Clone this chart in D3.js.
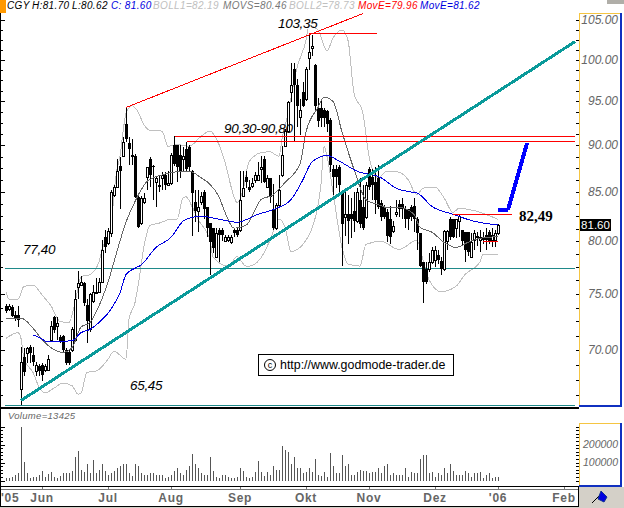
<!DOCTYPE html>
<html><head><meta charset="utf-8">
<script src="https://cdn.jsdelivr.net/npm/d3@7/dist/d3.min.js"></script>
<style>html,body{margin:0;padding:0;background:#fff;overflow:hidden}svg{display:block;font-family:"Liberation Sans",Arial,sans-serif}</style>
</head><body><svg id="c" width="624" height="508"></svg>
<script>
const open=[73.9,73.6,73.8,73.1,73.1,66.7,69.4,69.7,70.3,69.6,
68.2,68.6,68.7,68.3,68.3,70.9,72.9,72.1,71.1,71.2,
70.0,69.8,70.0,70.9,75.6,75.8,76.0,74.0,71.8,74.3,
75.1,75.2,76.1,80.4,79.8,80.8,84.7,85.5,87.8,88.8,
92.4,90.3,88.9,88.8,84.5,81.8,84,86.6,88.5,87.8,
86.1,85.7,86.5,86.8,85.7,85.9,90.1,90.1,89,88.5,
89.6,89.8,87.2,84,83,84,85,83.4,81.8,81.3,
78.5,81.1,81.1,80,80.1,79.9,81.1,81.1,81.1,84.6,
86.6,85.5,85.6,86.3,86.3,87.4,88.5,85.5,86.5,83.2,
81.3,83.7,86.8,89.9,91.6,96.1,98.9,96.9,93.2,96.1,
95.3,100.2,101.4,99.4,94.2,94.2,94,93.9,92.9,87.4,
87.4,87.6,85,82.4,82.7,82.7,83,82,84.2,83.4,
82.4,87.4,86.6,86.1,86.5,83.9,83.4,82.9,82.2,81,
82.7,83.8,83.8,83.2,83.2,83.4,83.5,82.2,80.8,78,
77.3,77.3,78,78.2,78.7,78.1,77.3,80,82.2,82.2,
81.3,82,81.1,80.9,80.9,78.5,80.1,80.4,80.1,80.4,
80.6,80.9,80.1,80.1,80.8];
const high=[74.1,74.1,74.0,73.4,73.9,70.3,70.2,70.3,70.4,70.3,
69.0,68.8,68.9,68.8,69.6,72.5,73,72.9,71.3,71.3,
70.2,70,72,75.4,77.1,76.7,76.1,74.5,75.1,75.8,
76.5,76.5,80.1,81.1,81.3,85.2,85.7,88.5,88.7,90.9,
94.4,90.9,90.7,89.1,84.6,84.6,84.9,87.7,88.7,87.9,
86.6,86.8,87.1,87.1,87.2,89.2,91,90.1,90.1,89.8,
90.4,90.1,87.3,85.2,85.2,85,85.2,83.4,81.8,81.3,
81.3,81.3,81.3,80.6,80.6,80.6,81.3,81.3,87.2,87.2,
87.2,86.3,86.5,87.1,88.2,88.8,88.8,86.8,86.5,85.8,
83.9,86.8,89.9,91.8,95,99.6,99.6,97.7,95.3,97.3,
99.1,103.35,103.1,99.5,95.4,95.1,94.2,94,93.1,87.9,
87.9,87.9,85.2,85,84.7,84.4,85,85.4,86.5,85.7,
86.1,87.6,87.4,87.6,87.9,84.2,83.7,83.2,83.5,82,
84.2,84.2,84.4,83.5,83.2,83.7,84.4,82.4,80.8,78,
78,78.9,79.4,79.5,79.2,78.5,81.1,81.1,82.4,82.2,
82.2,82.7,81.1,80.9,80.9,80.8,81.1,80.9,81.1,80.9,
81.3,81.1,81.3,81.1,81.7];
const low=[73.3,73.4,72.9,72.5,72.0,65.45,67.8,68.9,68.9,68.6,
67.8,67.8,67.4,68.1,68.2,70.8,71.5,70.9,70.6,69.8,
68.7,68.7,69.8,70.7,74.5,75.7,73.9,70.6,71.6,74.2,
75.1,75.1,76.0,78.9,79.6,80.4,84.5,85.4,83.2,88.7,
90.4,87.9,87.9,84.4,81.3,81.6,83.8,85.2,85.5,84.2,
83.4,85,85.2,85.2,85.6,85.7,87.8,86.1,86.5,87.1,
87.2,87.2,80.5,81.9,80.9,83.7,82.2,80.4,76.8,78.9,
78.4,78,80,79.9,79.9,79.7,80.4,80.4,80.9,84.5,
85.4,85,85.4,85.9,86.3,85.9,85.9,85.4,83.9,81.1,
81.1,83.5,86.6,89.8,91.5,94.9,90.5,92.1,91.2,94.3,
95.1,98.7,100.4,94,92.1,92.1,92.1,91.5,87.1,84.7,
85.4,84.7,77.6,80.5,79.7,80.3,80.9,81.8,81.3,81.1,
82.2,85.2,84.2,82.7,83.2,82,82.2,79.9,79.7,80.8,
82.4,82.4,82.2,81.3,81.1,82,80.9,79.2,77.5,74.2,
75.9,77,77.8,77.5,77.8,76.8,77.1,79.2,80.1,80.3,
80.3,80.4,79.5,78,78.6,78.4,79.2,79.5,79,79.7,
79.2,79.7,79.4,79.4,80.62];
const close=[73.4,73.9,73.0,72.8,72.6,69.0,68.1,70.2,69.7,69.0,
68.7,68.2,67.9,68.6,69.2,72.1,71.7,72.4,70.7,70.0,
68.9,68.9,71.8,74.5,76.0,76.1,74.2,72.5,75.0,75.2,
75.2,76.1,79.2,79.4,81,85,85.5,87.2,87.2,90.4,
90.7,89.6,88.7,84.5,81.4,84.4,84.4,87.6,86.8,87.6,
86.5,85.5,86.8,85.7,85.9,89,88,87.6,87.2,88.8,
87.4,87.6,84.9,83,83.4,84.6,83.2,81.3,79.9,79.3,
80.8,80.6,80.6,80.4,80.4,80.4,80.8,80.6,84.2,85.4,
86.1,85.2,85.9,86.8,86.8,87.6,86.1,86.5,84.5,81.3,
83.7,85.2,89,91.6,94.9,96.9,96.9,94.5,94,94.5,
98.9,100.9,101.7,94.5,92.7,93.1,93.1,92.4,87.9,86.6,
86.6,85.7,81.7,82.7,82,82.2,82,85,81.7,81.3,
85.7,85.5,85.7,84.2,83.4,82.4,82.4,80.5,80.4,81.5,
82.9,83.2,83.2,82.2,82.2,82.4,82.2,80.8,77.6,76.1,
76.1,78,79.2,79.2,78.2,77.3,81,81,80.4,80.4,
82.2,82.5,80,79.2,79,79.9,80.8,80.5,80.4,80.1,
80.1,80,80.6,80.8,81.6];
const volumeK=[15,15,18,28,42,296,105,39,15,22,22,28,55,18,37,50,22,15,26,39,44,44,55,133,166,61,50,94,39,116,39,61,94,55,33,42,55,72,78,89,94,44,26,94,83,39,33,33,39,39,28,30,33,15,18,33,55,72,39,28,61,83,150,89,72,39,28,33,128,55,22,15,31,28,17,15,15,17,67,55,22,15,22,50,111,50,24,50,33,78,61,61,194,172,159,94,133,72,67,44,50,67,
50,122,33,24,50,17,155,83,44,44,139,78,89,33,33,50,61,55,55,39,50,50,67,39,83,89,33,44,33,28,28,67,17,48,44,44,122,139,144,44,50,17,39,28,72,39,94,55,28,28,33,55,44,22,39,44,50,15,33,39,15,22,18];

const upperAt=[0,1,4,6,9,12,15,18,21,23,25,28,31,32,35,36,37,38,39,40,42,44,46,48,52,54,57,61,65,68,71,73,76,77,79,81,85,88,91,92,94,97,100,101,104,107,109,112,114,116,119,121,124,127,131,134,137,139,143,146,149,151,157,164];
const upperVal=[75.2,74.5,74.5,75.7,75.8,74.9,73.9,72.5,72.4,74.2,76.6,76.8,78,79.2,81.1,84.9,87.4,88.8,91.5,93.6,94.5,93.8,92.3,91.7,91.6,89.9,90.1,89.9,91,91.6,90.1,88.2,84.5,83.9,85.2,88.2,89.2,89.3,88.8,90.7,93.6,99,102.4,104.3,103.7,101.1,102.7,103.7,102.4,96,93.6,88.8,86.5,87.2,87.1,86.3,84.7,85.4,85.5,84.4,82.9,83.3,83,82.19];
const lowerAt=[0,4,5,6,9,11,13,16,19,22,24,25,27,30,34,36,40,41,43,44,46,48,51,55,57,59,60,62,64,68,69,74,77,80,81,85,88,91,93,95,100,102,105,106,107,109,112,114,118,120,125,131,137,139,141,145,150,153,158,159,164];
const lowerVal=[71,71.5,71,69.2,68.1,66.9,66.4,66.8,67.2,67,66.3,66.4,68.1,68.2,69.2,69.9,69.2,72.7,74.2,75.7,79.5,81.6,81.8,82.2,82.2,84.4,84.5,83.5,82.2,80.1,78.5,77.6,78.5,77.6,77.6,78.4,80.1,82.2,81.4,79,80.1,81.3,85.8,89.9,88.8,85,79.4,77.8,77.6,79.7,80,79.2,80.1,78.2,76.3,75.2,75.7,76.8,78,78.7,78.73];
const movsAt=[0,5,9,12,15,19,22,25,28,31,35,36,40,43,45,47,52,56,61,65,68,71,73,76,80,85,89,93,98,100,104,106,109,112,116,120,124,127,131,136,138,142,146,150,154,158,164];
const movsVal=[72.8,72.8,71.9,70.9,70.2,69.8,70.2,72,72.4,73.9,77,78,81.9,84,85.2,86.1,86.8,87.1,87.2,86.5,85.8,84.5,82.9,81.3,81.6,84.2,84.7,86,88,91.5,94.3,95.5,95,91.5,87.4,84.2,83.7,83.4,83.4,82.7,81.4,80.9,79.9,79.4,79.9,80.3,80.46];
const moveAt=[9,11,14,22,25,28,31,35,38,40,43,45,50,55,59,62,65,71,77,84,90,95,99,102,107,111,117,125,130,135,137,142,149,156,164];
const moveVal=[71.3,71.1,70.7,70.8,71.5,71.8,72.4,73.6,75.1,76.8,77.4,77.7,79.4,80.4,82,82.4,82.5,82.2,81.9,82.7,83.3,84.2,86.3,88.2,88.9,88.3,87.2,86.5,85.4,85,84.9,83.5,82.7,82,81.62];

const priceTicks=[105,100,95,90,85,80,75,70];
const minorPrice=[];for(let p=105;p>=65.5;p-=1.25)minorPrice.push(p);
const volTicks=[100000,200000];
const minorVol=[];for(let v=0;v<=300000;v+=20000)minorVol.push(v);
const monthNames=["Jun","Jul","Aug","Sep","Okt","Nov","Dez","'06","Feb"];
const monthAt=[12,34,55,78,100,121,143,164,186];
const fmt=d3.format(".2f");

const x=d3.scaleLinear().domain([0,164]).range([6,498]);
const y=d3.scaleLog().domain([105,70]).range([20,350]);
const yv=d3.scaleLinear().domain([0,300000]).range([480.5,426.5]);
const svg=d3.select("#c");
const round=v=>Math.round(v);

svg.append("rect").attr("width",624).attr("height",508).attr("fill","#fff");

const line=(at,val)=>d3.line().x((d,i)=>x(at[i])).y(d=>y(d)).curve(d3.curveMonotoneX)(val);
const path=(d,col,w)=>svg.append("path").attr("d",d).attr("fill","none").attr("stroke",col).attr("stroke-width",w).attr("shape-rendering","crispEdges");

path(line(upperAt,upperVal),"#c0c0c0",1);
path(line(lowerAt,lowerVal),"#c0c0c0",1);

const segment=(a,pa,b,pb,col,w)=>svg.append("line").attr("x1",x(a)).attr("x2",x(b)).attr("y1",round(y(pa))+(w%2?0.5:0)).attr("y2",round(y(pb))+(w%2?0.5:0)).attr("stroke",col).attr("stroke-width",w).attr("shape-rendering","crispEdges");
segment(-0.3,77.4,189.7,77.4,"#1f8a8a",1);
segment(-0.3,65.45,189.7,65.45,"#1f8a8a",1);

const n=open.length;
const g=svg.append("g").attr("shape-rendering","crispEdges");
d3.range(n).forEach(i=>{
  const X=round(x(i));
  g.append("line").attr("x1",X+.5).attr("x2",X+.5).attr("y1",y(high[i])).attr("y2",y(low[i])).attr("stroke","#000");
  const t=round(y(Math.max(open[i],close[i]))),b=round(y(Math.min(open[i],close[i])));
  const up=close[i]>open[i];
  g.append("rect").attr("x",X-1+(up?.5:0)).attr("y",t+(up?.5:0)).attr("width",up?2:3).attr("height",Math.max(b-t,1))
   .attr("fill",up?"#fff":"#000").attr("stroke",up?"#000":"none");
});

path(line(movsAt,movsVal),"#666",1);
path(line(moveAt,moveVal),"#0000e0",1);

segment(40,94.4,119,105.9,"#f00",1);
segment(101,103.35,123.7,103.35,"#f00",1);
segment(56.4,91.05,189.7,91.05,"#f00",1);
segment(60.4,90.5,189.7,90.5,"#f00",1);
segment(149,82.7,168.7,82.7,"#f00",1);
segment(159,80.0,164,80.0,"#f00",1);
segment(5,65.8,189.7,102.3,"#0a9a9a",3);
segment(164,83.1,167.3,83.1,"#0000ff",4);
segment(167.3,83.1,173.7,90.3,"#0000ff",4);

const hl=(x1,x2,yy,col,w=1)=>svg.append("rect").attr("x",x1).attr("y",yy).attr("width",x2-x1).attr("height",w).attr("fill",col);
const vl=(xx,y1,y2,col,w=1)=>svg.append("rect").attr("x",xx).attr("y",y1).attr("width",w).attr("height",y2-y1).attr("fill",col);

svg.append("g").attr("shape-rendering","crispEdges").selectAll("line").data(volumeK).join("line")
  .attr("x1",(d,i)=>round(x(i))+.5).attr("x2",(d,i)=>round(x(i))+.5)
  .attr("y1",d=>yv(d*1000)).attr("y2",yv(0)).attr("stroke","#555");

hl(0,579,407,"#000",2);
hl(0,579,486,"#000",1);
hl(0,579,489,"#777",1);
hl(0,579,506,"#000",1);
vl(0,0,506,"#000",1);
vl(578,487,507,"#000",1);

const mkAxis=(gen,tx)=>{const a=svg.append("g").attr("transform",`translate(${tx},0)`).call(gen).attr("shape-rendering","crispEdges");a.select(".domain").remove();a.selectAll("line").attr("stroke","#000");return a;};
const noLab=()=>"";
mkAxis(d3.axisRight(y).tickValues(minorPrice).tickSize(3).tickFormat(noLab),0);
mkAxis(d3.axisRight(y).tickValues(priceTicks).tickSize(5).tickFormat(noLab),0);
mkAxis(d3.axisRight(yv).tickValues(minorVol).tickSize(3).tickFormat(noLab),0);
mkAxis(d3.axisRight(yv).tickValues([0,100000,200000,300000]).tickSize(5).tickFormat(noLab),0);

hl(579,624,0,"#fff",508);
svg.append("rect").attr("x",607).attr("y",0).attr("width",17).attr("height",4).attr("fill","#b0aea8");
hl(579,621,13,"#f5c542",1);
vl(579,13,405,"#f5c542",1);
hl(579,622,405,"#1030c0",2);
vl(620,13,407,"#1030c0",2);
hl(579,621,423,"#f5c542",1);
vl(579,423,486,"#f5c542",1);
hl(579,622,485,"#1030c0",2);
vl(620,423,487,"#1030c0",2);
mkAxis(d3.axisLeft(y).tickValues(minorPrice).tickSize(3).tickFormat(noLab),579);
mkAxis(d3.axisLeft(yv).tickValues(minorVol).tickSize(3).tickFormat(noLab),579);
svg.selectAll(null).data(priceTicks).join("text").attr("x",618).attr("y",d=>y(d)+4).attr("text-anchor","end")
  .attr("font-size",12).attr("font-style","italic").attr("fill","#666").text(d=>fmt(d));
svg.selectAll(null).data(volTicks).join("text").attr("x",618).attr("y",d=>yv(d)+3.5).attr("text-anchor","end")
  .attr("font-size",10.5).attr("font-style","italic").attr("fill","#666").text(d=>d);
svg.append("rect").attr("x",580).attr("y",219).attr("width",31).attr("height",12).attr("fill","#000");
svg.append("text").attr("x",595.5).attr("y",229).attr("text-anchor","middle").attr("font-size",11.5).attr("fill","#fff").text(fmt(close[n-1]));

svg.append("rect").attr("x",579).attr("y",487).attr("width",45).attr("height",21).attr("fill","#d4d0c8");
hl(0,624,507,"#d4d0c8",1);
svg.append("line").attr("x1",592).attr("y1",503).attr("x2",601).attr("y2",494).attr("stroke","#000");
svg.append("path").attr("d","M601 491 L607 497 L604 502 L598 499 Z").attr("fill","#0000e0").attr("stroke","#103090");

const mtick=svg.append("g").attr("transform","translate(0,489)").call(d3.axisTop(x).tickValues(monthAt).tickSize(2).tickFormat(noLab)).attr("shape-rendering","crispEdges");
mtick.select(".domain").remove();mtick.selectAll("line").attr("stroke","#777");
svg.selectAll(null).data(monthNames).join("text").attr("x",(d,i)=>x(monthAt[i])).attr("y",502).attr("text-anchor","middle")
  .attr("font-size",12).attr("font-weight","bold").attr("fill","#666").attr("letter-spacing",0.7).text(d=>d);
svg.append("text").attr("x",1).attr("y",502).attr("font-size",12).attr("font-weight","bold").attr("fill","#666").attr("letter-spacing",0.7).text("'05");

svg.append("rect").attr("x",0).attr("y",0).attr("width",6).attr("height",13).attr("fill","#f90");

const head=[[7,"CGY","#000"],[32,"H:81.70","#000"],[72,"L:80.62","#000"],[111,"C: 81.60","#0000e0"],[153,"BOLL1=82.19","#c0c0c0"],[223,"MOVS=80.46","#777"],[289,"BOLL2=78.73","#c0c0c0"],[358,"MovE=79.96","#f00"],[420,"MovE=81.62","#0000e0"]];
svg.selectAll(null).data(head).join("text").attr("x",d=>d[0]).attr("y",9).attr("font-size",10).attr("font-style","italic").attr("letter-spacing",0.35).attr("fill",d=>d[2]).text(d=>d[1]);

const lab=(xx,yy,t)=>svg.append("text").attr("x",xx).attr("y",yy).attr("font-size",13.5).attr("letter-spacing",-0.3).attr("font-style","italic").attr("fill","#000").text(t);
lab(278,28,"103,35");
lab(224,133,"90,30-90,80");
lab(23,254,"77,40");
lab(130,390,"65,45");
svg.append("text").attr("x",519).attr("y",221).attr("font-size",15).attr("font-weight","bold").style("font-family","'Liberation Serif',serif").attr("fill","#000").text("82,49");

svg.append("rect").attr("x",258.5).attr("y",354.5).attr("width",195).attr("height",21).attr("fill","#fff").attr("stroke","#000");
svg.append("circle").attr("cx",270).attr("cy",365).attr("r",5.5).attr("fill","none").attr("stroke","#000");
svg.append("text").attr("x",270).attr("y",368).attr("text-anchor","middle").attr("font-size",9).attr("fill","#000").text("c");
svg.append("text").attr("x",280).attr("y",369).attr("font-size",12.4).attr("fill","#000").text("http://www.godmode-trader.de");

svg.append("text").attr("x",8).attr("y",419).attr("font-size",9.5).attr("font-style","italic").attr("fill","#666").attr("letter-spacing",0.3).text("Volume=13425");
</script></body></html>
